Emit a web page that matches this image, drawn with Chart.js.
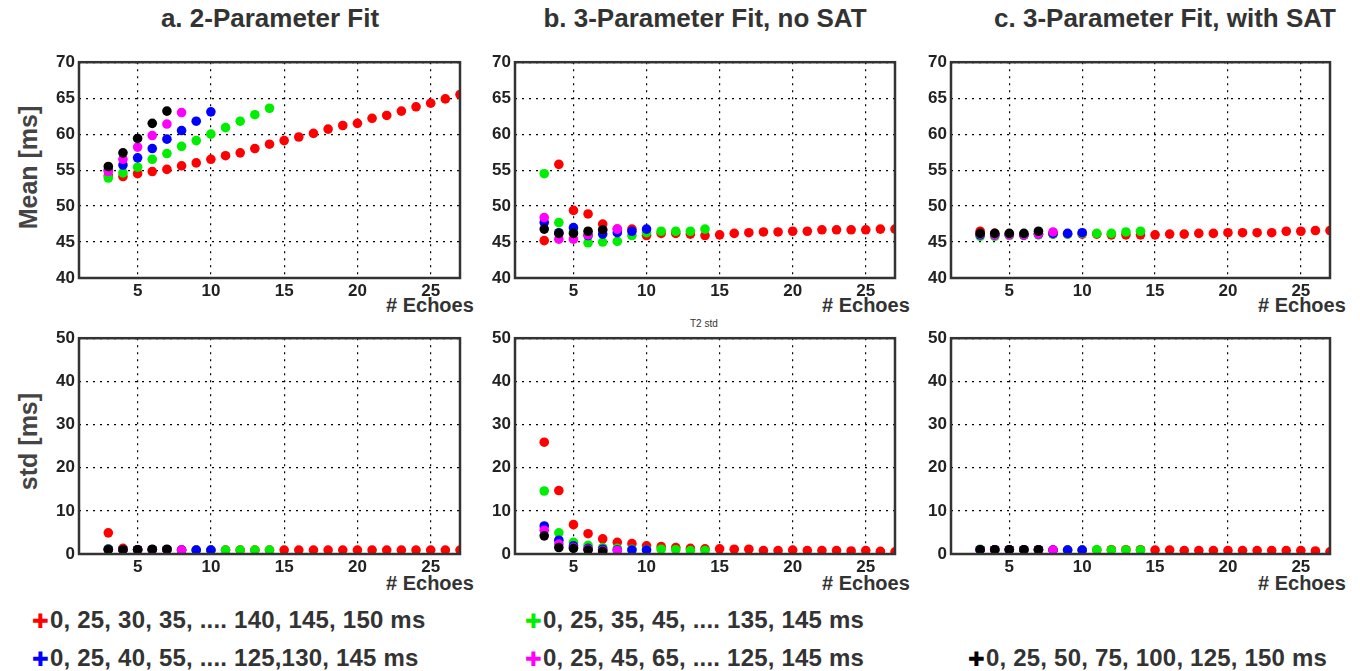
<!DOCTYPE html>
<html>
<head>
<meta charset="utf-8">
<script src="https://cdn.jsdelivr.net/npm/chart.js@4/dist/chart.umd.min.js"></script>
<style>
  body { margin: 0; background: #fff; width: 1360px; height: 671px; overflow: hidden; position: relative; font-family: "Liberation Sans", Arial, sans-serif; }
  .panel { position: absolute; }
  .title { position: absolute; top: 3px; font: bold 26px "Liberation Sans", Arial, sans-serif; color: #333; text-align: center; width: 440px; }
  .ylab { position: absolute; font: bold 25px "Liberation Sans", Arial, sans-serif; color: #444; transform: rotate(-90deg); transform-origin: center; width: 200px; text-align: center; }
  .echo { position: absolute; font: bold 20px "Liberation Sans", Arial, sans-serif; color: #333; }
  .small { position: absolute; font: 10px "Liberation Sans", Arial, sans-serif; color: #333; }
  .leg { position: absolute; font: bold 24px "Liberation Sans", Arial, sans-serif; color: #333; white-space: nowrap; letter-spacing: 0.2px; }
  .mk { font: 20px "DejaVu Sans", sans-serif; margin-right: 1px; }
</style>
</head>
<body>
<div class="title" style="left:50px">a. 2-Parameter Fit</div>
<div class="title" style="left:485px">b. 3-Parameter Fit, no SAT</div>
<div class="title" style="left:945px">c. 3-Parameter Fit, with SAT</div>
<div class="ylab" style="left:-72px; top:153px">Mean [ms]</div>
<div class="ylab" style="left:-72px; top:427px">std [ms]</div>
<div class="echo" style="left:386px; top:294px"># Echoes</div>
<div class="echo" style="left:822px; top:294px"># Echoes</div>
<div class="echo" style="left:1258px; top:294px"># Echoes</div>
<div class="echo" style="left:386px; top:572px"># Echoes</div>
<div class="echo" style="left:822px; top:572px"># Echoes</div>
<div class="echo" style="left:1258px; top:572px"># Echoes</div>
<div class="small" style="left:690px; top:318px">T2 std</div>
<div class="leg" style="left:32px; top:606px"><span class="mk" style="color:#ff0000">✚</span>0, 25, 30, 35, .... 140, 145, 150 ms</div>
<div class="leg" style="left:525px; top:606px"><span class="mk" style="color:#00ee00">✚</span>0, 25, 35, 45, .... 135, 145 ms</div>
<div class="leg" style="left:32px; top:644px"><span class="mk" style="color:#0000ff">✚</span>0, 25, 40, 55, .... 125,130, 145 ms</div>
<div class="leg" style="left:525px; top:644px"><span class="mk" style="color:#ff00ff">✚</span>0, 25, 45, 65, .... 125, 145 ms</div>
<div class="leg" style="left:968px; top:644px"><span class="mk" style="color:#000000">✚</span>0, 25, 50, 75, 100, 125, 150 ms</div>

<canvas id="meanA" class="panel"></canvas>
<canvas id="meanB" class="panel"></canvas>
<canvas id="meanC" class="panel"></canvas>
<canvas id="stdA" class="panel"></canvas>
<canvas id="stdB" class="panel"></canvas>
<canvas id="stdC" class="panel"></canvas>

<script>
// echo counts for each TE scheme
const echoesRed = [3, 4, 5, 6, 7, 8, 9, 10, 11, 12, 13, 14, 15, 16, 17, 18, 19, 20, 21, 22, 23, 24, 25, 26, 27];
const echoesGreen = [3, 4, 5, 6, 7, 8, 9, 10, 11, 12, 13, 14];
const echoesBlue = [3, 4, 5, 6, 7, 8, 9, 10];
const echoesMagenta = [3, 4, 5, 6, 7, 8];
const echoesBlack = [3, 4, 5, 6, 7];

const xTicks = [5, 10, 15, 20, 25];
const meanTicks = [40, 45, 50, 55, 60, 65, 70];
const stdTicks = [0, 10, 20, 30, 40, 50];

// a. 2-parameter fit, mean
const meanA_red = [54.2, 54.1, 54.5, 54.8, 55.1, 55.6, 56.0, 56.5, 57.0, 57.4, 58.0, 58.6, 59.1, 59.6, 60.1, 60.7, 61.2, 61.5, 62.2, 62.6, 63.2, 63.8, 64.3, 64.9, 65.5];
const meanA_green = [53.9, 54.6, 55.4, 56.5, 57.3, 58.3, 59.1, 60.0, 60.9, 61.8, 62.7, 63.6];
const meanA_blue = [55.0, 55.7, 56.7, 58.0, 59.3, 60.5, 61.8, 63.1];
const meanA_magenta = [54.8, 56.5, 58.2, 59.8, 61.4, 63.0];
const meanA_black = [55.5, 57.4, 59.4, 61.5, 63.2];

// b. 3-parameter fit, no SAT, mean
const meanB_red = [45.2, 55.8, 49.4, 48.9, 47.5, 46.8, 46.8, 45.9, 46.2, 46.2, 46.1, 45.9, 46.0, 46.2, 46.3, 46.4, 46.4, 46.5, 46.5, 46.7, 46.7, 46.7, 46.7, 46.8, 46.8];
const meanB_green = [54.5, 47.7, 46.4, 44.9, 45.0, 45.1, 45.9, 46.3, 46.5, 46.5, 46.5, 46.8];
const meanB_blue = [47.7, 46.3, 47.0, 45.9, 46.1, 46.3, 46.5, 46.8];
const meanB_magenta = [48.4, 45.4, 45.4, 46.0, 46.7, 46.8];
const meanB_black = [46.8, 46.2, 46.2, 46.5, 46.7];

// c. 3-parameter fit, with SAT, mean
const meanC_red = [46.5, 46.2, 46.0, 46.0, 46.1, 46.1, 46.1, 46.1, 46.1, 46.0, 46.0, 46.0, 46.0, 46.1, 46.1, 46.2, 46.2, 46.3, 46.3, 46.3, 46.3, 46.5, 46.5, 46.6, 46.6];
const meanC_green = [45.8, 45.8, 45.9, 45.9, 46.0, 46.1, 46.1, 46.2, 46.2, 46.2, 46.4, 46.5];
const meanC_blue = [46.0, 46.0, 46.1, 46.0, 46.1, 46.2, 46.2, 46.3];
const meanC_magenta = [46.1, 46.0, 46.0, 46.0, 46.1, 46.4];
const meanC_black = [46.2, 46.2, 46.2, 46.2, 46.5];

// std rows
const stdA_red = [4.9, 1.3, 1.0, 1.0, 1.0, 0.9, 0.9, 0.9, 0.9, 0.9, 0.9, 0.9, 0.9, 0.9, 0.9, 0.9, 0.9, 0.9, 0.9, 0.9, 0.9, 0.9, 0.9, 0.9, 0.9];
const stdA_green = [1.2, 1.0, 1.0, 1.0, 1.0, 0.9, 0.9, 0.9, 0.9, 0.9, 0.9, 0.9];
const stdA_blue = [1.1, 1.0, 1.0, 1.0, 1.0, 0.9, 0.9, 0.9];
const stdA_magenta = [1.0, 1.0, 1.0, 1.0, 1.0, 0.9];
const stdA_black = [1.0, 1.0, 1.0, 1.1, 1.1];

const stdB_red = [25.9, 14.7, 6.8, 4.7, 3.5, 2.7, 2.4, 1.9, 1.7, 1.5, 1.3, 1.2, 1.2, 1.1, 1.1, 0.8, 0.8, 0.9, 0.8, 0.8, 0.8, 0.7, 0.8, 0.6, 0.5];
const stdB_green = [14.6, 4.9, 2.7, 2.0, 1.5, 1.3, 1.1, 1.0, 1.1, 1.0, 0.8, 0.8];
const stdB_blue = [6.5, 3.2, 1.9, 1.3, 1.1, 0.9, 0.9, 0.9];
const stdB_magenta = [5.5, 2.3, 1.5, 1.1, 0.8, 0.8];
const stdB_black = [4.2, 1.5, 1.3, 0.9, 0.6];

const stdC_red = [1.0, 1.0, 1.0, 0.9, 0.9, 0.9, 0.9, 0.9, 0.9, 1.0, 1.0, 1.0, 0.9, 0.9, 0.8, 0.8, 0.8, 0.8, 0.8, 0.8, 0.8, 0.8, 0.8, 0.7, 0.5];
const stdC_green = [1.1, 1.0, 1.0, 1.0, 1.0, 0.9, 0.9, 0.9, 1.0, 0.9, 0.9, 0.9];
const stdC_blue = [1.0, 1.0, 1.0, 1.0, 1.0, 0.9, 0.9, 0.9];
const stdC_magenta = [1.0, 1.0, 1.0, 1.0, 1.0, 0.9];
const stdC_black = [1.0, 1.0, 1.0, 1.0, 1.0];

const seriesColors = ["#ff0000", "#00ee00", "#0000ff", "#ff00ff", "#000000"];
const seriesEchoes = [echoesRed, echoesGreen, echoesBlue, echoesMagenta, echoesBlack];

const frameBox = {
  id: "frameBox",
  afterDraw(chart) {
    const { ctx, chartArea } = chart;
    ctx.save();
    ctx.strokeStyle = "#333";
    ctx.lineWidth = 2.5;
    ctx.strokeRect(chartArea.left, chartArea.top, chartArea.right - chartArea.left, chartArea.bottom - chartArea.top);
    ctx.restore();
  }
};

function toPoints(xs, ys) {
  return xs.map((x, i) => ({ x: x, y: ys[i] }));
}

function makePanel(id, plotLeft, plotTop, plotW, plotH, yTicks, seriesValues) {
  const padL = 45, padT = 10, padR = 20, padB = 30;
  const canvas = document.getElementById(id);
  canvas.style.left = (plotLeft - padL) + "px";
  canvas.style.top = (plotTop - padT) + "px";
  canvas.style.width = (plotW + padL + padR) + "px";
  canvas.style.height = (plotH + padT + padB) + "px";
  canvas.width = plotW + padL + padR;
  canvas.height = plotH + padT + padB;

  const datasets = seriesValues.map((vals, i) => ({
    data: toPoints(seriesEchoes[i], vals),
    backgroundColor: seriesColors[i],
    borderColor: seriesColors[i],
    pointRadius: 4.8,
    pointBorderWidth: 0,
    showLine: false,
    order: 4 - i
  }));

  const tickFont = { family: "Liberation Sans", weight: "bold", size: 17 };

  return new Chart(canvas.getContext("2d"), {
    type: "scatter",
    plugins: [frameBox],
    data: { datasets },
    options: {
      responsive: false,
      animation: false,
      layout: { padding: { top: padT, right: padR, left: 0, bottom: 0 } },
      plugins: {
        legend: { display: false },
        tooltip: { enabled: false }
      },
      scales: {
        x: {
          type: "linear",
          min: 1,
          max: 27,
          afterBuildTicks: (scale) => { scale.ticks = xTicks.map(v => ({ value: v })); },
          afterFit: (scale) => { scale.height = padB; },
          ticks: { font: tickFont, color: "#222", padding: 3, maxRotation: 0 },
          grid: { color: "#000", lineWidth: 1.2, drawTicks: false },
          border: { display: false, dash: [2, 5] }
        },
        y: {
          min: yTicks[0],
          max: yTicks[yTicks.length - 1],
          afterBuildTicks: (scale) => { scale.ticks = yTicks.map(v => ({ value: v })); },
          afterFit: (scale) => { scale.width = padL; },
          ticks: { font: tickFont, color: "#222", padding: 4 },
          grid: { color: "#000", lineWidth: 1.2, drawTicks: false },
          border: { display: false, dash: [2, 5] }
        }
      }
    }
  });
}

try {
  makePanel("meanA", 79, 58, 381, 220, meanTicks, [meanA_red, meanA_green, meanA_blue, meanA_magenta, meanA_black]);
  makePanel("meanB", 515, 58, 380, 220, meanTicks, [meanB_red, meanB_green, meanB_blue, meanB_magenta, meanB_black]);
  makePanel("meanC", 951, 58, 379, 220, meanTicks, [meanC_red, meanC_green, meanC_blue, meanC_magenta, meanC_black]);
  makePanel("stdA", 79, 334, 381, 220, stdTicks, [stdA_red, stdA_green, stdA_blue, stdA_magenta, stdA_black]);
  makePanel("stdB", 515, 334, 380, 220, stdTicks, [stdB_red, stdB_green, stdB_blue, stdB_magenta, stdB_black]);
  makePanel("stdC", 951, 334, 379, 220, stdTicks, [stdC_red, stdC_green, stdC_blue, stdC_magenta, stdC_black]);
} catch (error) {
  console.error("CHART CRASH:", error);
}
</script>
</body>
</html>
